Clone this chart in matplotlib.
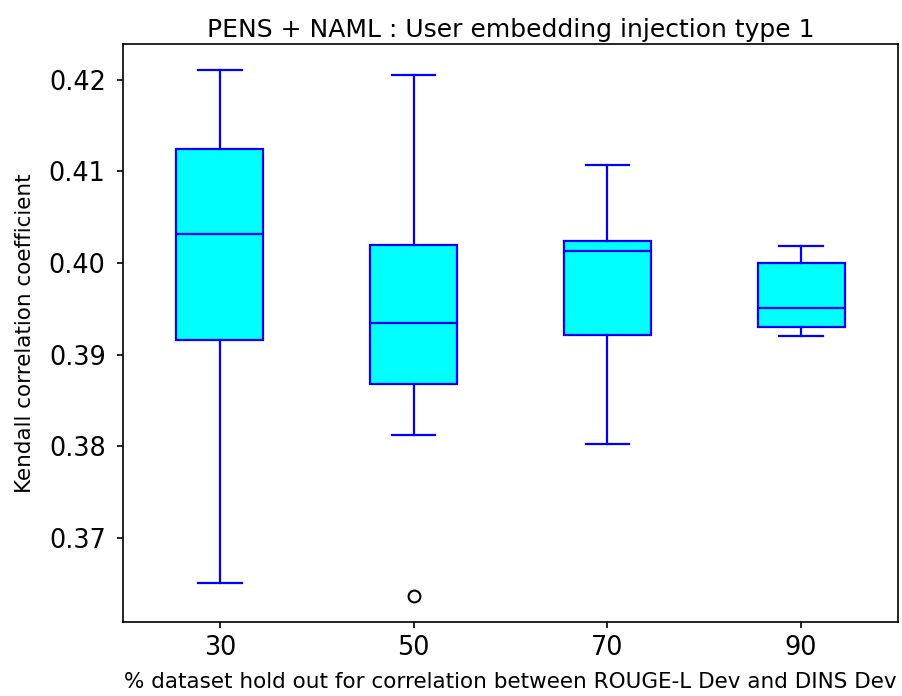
import matplotlib
matplotlib.use("Agg")
import matplotlib.pyplot as plt

categories = ["30", "50", "70", "90"]
whisker_low = [0.36508, 0.38126, 0.38024, 0.39197]
q1 = [0.39164, 0.38683, 0.39208, 0.39298]
median = [0.40311, 0.39339, 0.40126, 0.39510]
q3 = [0.41248, 0.40191, 0.40238, 0.40002]
whisker_high = [0.42104, 0.42052, 0.41066, 0.40180]
outliers = [[], [0.36366], [], []]

stats = []
for i, c in enumerate(categories):
    stats.append(dict(label=c, whislo=whisker_low[i], q1=q1[i], med=median[i],
                      q3=q3[i], whishi=whisker_high[i], fliers=outliers[i]))

fig = plt.figure(figsize=(9.03, 6.96), dpi=100)
ax = fig.add_axes([123/903, 1 - 622/696, 775/903, 578/696])

lw = 1.6
ax.bxp(stats, positions=[1, 2, 3, 4], widths=0.45, patch_artist=True,
       boxprops=dict(facecolor="cyan", edgecolor="blue", linewidth=lw),
       medianprops=dict(color="blue", linewidth=lw),
       whiskerprops=dict(color="blue", linewidth=lw),
       capprops=dict(color="blue", linewidth=lw),
       flierprops=dict(marker="o", markerfacecolor="none", markeredgecolor="black",
                       markersize=8.5, markeredgewidth=1.5))
ax.set_xlim(0.5, 4.5)
ax.tick_params(axis="both", labelsize=18.4, length=4.5, width=1.2)
ax.tick_params(axis="y", pad=8)
ax.tick_params(axis="x", pad=5)
for s in ax.spines.values():
    s.set_linewidth(1.2)
ax.set_title("PENS + NAML : User embedding injection type 1", fontsize=18, pad=5)
ax.set_ylabel("Kendall correlation coefficient", fontsize=15.5, labelpad=10)
ax.set_xlabel("% dataset hold out for correlation between ROUGE-L Dev and DINS Dev",
              fontsize=15.5, labelpad=8)

fig.savefig("out.png", dpi=100)
